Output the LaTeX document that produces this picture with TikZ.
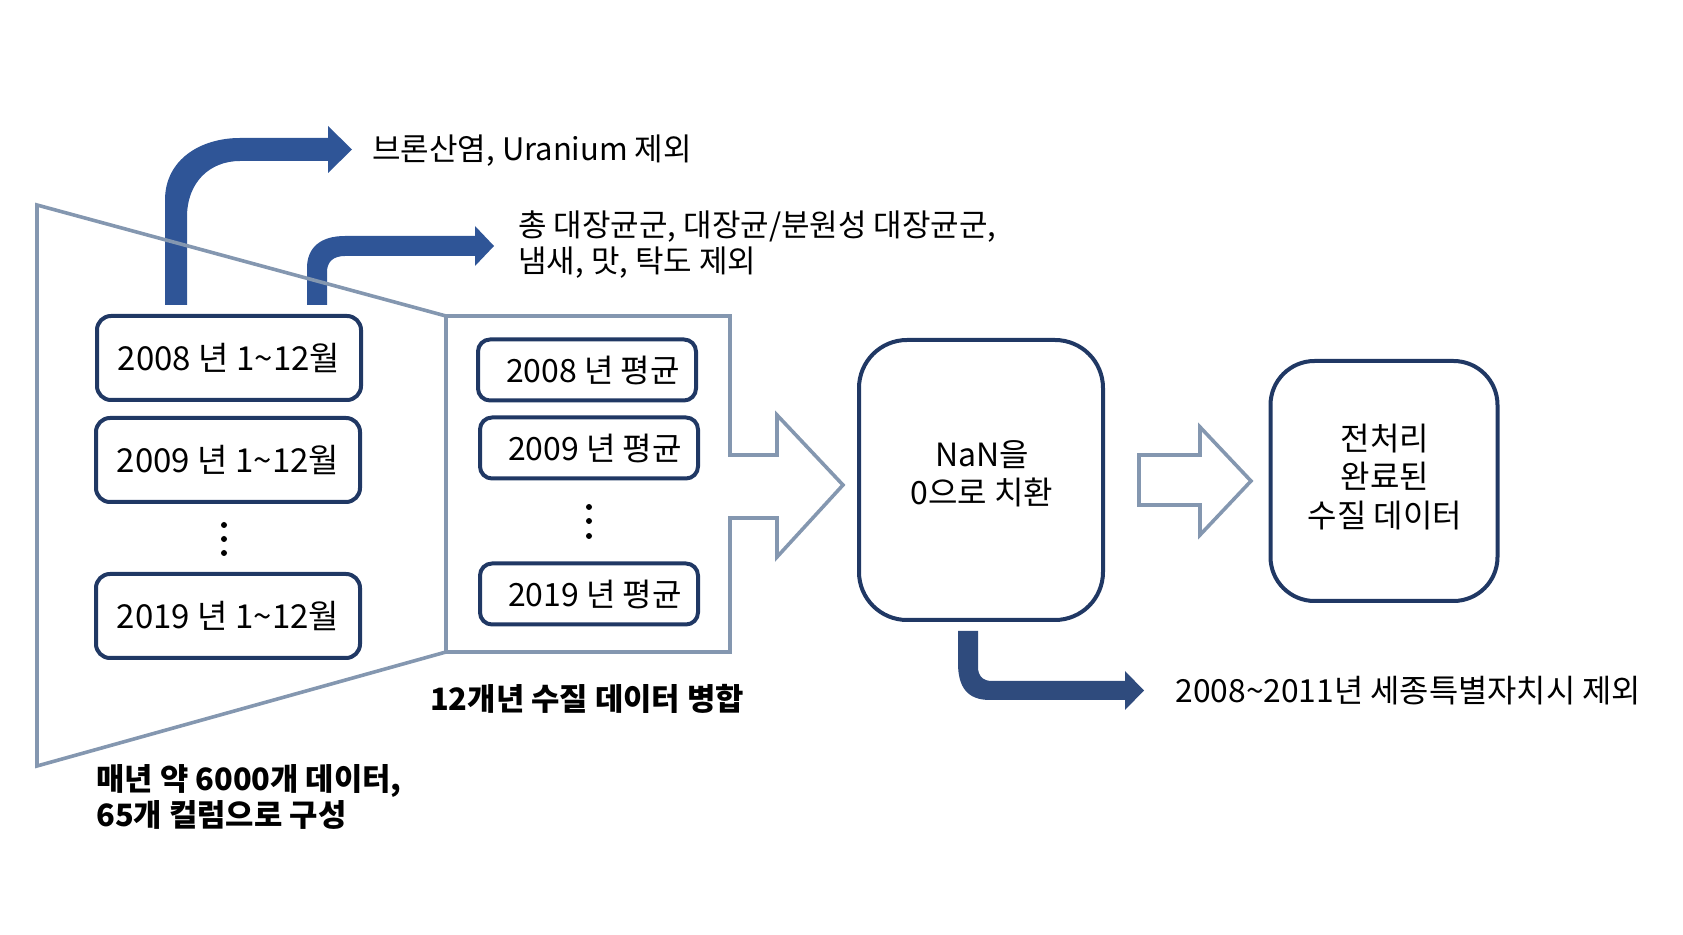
\documentclass[tikz,border=0pt]{standalone}
\usepackage{fontspec}
\setmainfont{Noto Sans CJK KR}
\usepackage{tikz}
\pgfdeclarelayer{bg}
\pgfsetlayers{bg,main}
\definecolor{navy}{HTML}{203864}
\definecolor{arrowblue}{HTML}{2F5597}
\definecolor{darkblue}{HTML}{2F4B7D}
\definecolor{slate}{HTML}{8497B0}
\tikzset{
  yearbox/.style={draw=navy, line width=2pt, rounded corners=7pt, minimum width=132pt, minimum height=42pt, font=\fontsize{16.5}{19}\selectfont},
  avgbox/.style={draw=navy, line width=2pt, rounded corners=6pt, minimum width=109pt, minimum height=30.5pt, font=\fontsize{16}{19}\selectfont},
  bigbox/.style={draw=navy, line width=2pt},
  boxtext/.style={align=center, inner sep=0pt, font=\fontsize{16}{19}\selectfont},
  hollow/.style={draw=slate, line width=1.8pt, line join=miter},
  note/.style={anchor=west, align=left, inner sep=0pt, font=\fontsize{15.5}{18}\selectfont},
  boldnote/.style={align=left, inner sep=0pt, font=\fontsize{15.4}{18}\selectfont\bfseries}
}
\begin{document}
\begin{tikzpicture}[x=0.5pt, y=-0.5pt]
        \useasboundingbox (0,0) rectangle (1683,935);
        % gray outlines
        \draw[hollow] (37,205) -- (446,316) -- (446,652) -- (37,766) -- cycle;
        \draw[hollow] (446,316) -- (730,316) -- (730,455) -- (777,455) -- (777,415) -- (843,485) -- (777,557) -- (777,518) -- (730,518) -- (730,652) -- (446,652) -- cycle;
        \draw[hollow] (1139,455) -- (1200,455) -- (1200,427) -- (1251,481) -- (1200,535) -- (1200,505) -- (1139,505) -- cycle;
        % monthly boxes
        \node (y0) [yearbox] at (229,358) {2008 년 1\textasciitilde12월};
        \node (y1) [yearbox] at (228,460) {2009 년 1\textasciitilde12월};
        \node (y2) [yearbox] at (228,616) {2019 년 1\textasciitilde12월};
        \fill (224,525) circle (3) (224,539) circle (3) (224,553) circle (3);
        % yearly averages
        \node (a0) [avgbox] at (587,370) {\hspace*{6pt}2008 년 평균};
        \node (a1) [avgbox] at (589,448) {\hspace*{6pt}2009 년 평균};
        \node (a2) [avgbox] at (589,594) {\hspace*{6pt}2019 년 평균};
        \fill (589,507) circle (3) (589,521) circle (3) (589,536) circle (3);
        \node (nan) [bigbox, rounded corners=24pt, minimum width=122pt, minimum height=140pt] at (981,480) {};
        \node (nantext) [boxtext] at (982,474) {NaN을\\0으로 치환};
        \node (done) [bigbox, rounded corners=22pt, minimum width=113.5pt, minimum height=120pt] at (1384,481) {};
        \node (donetext) [boxtext, font=\fontsize{16}{19.2}\selectfont] at (1385,477) {전처리\\완료된\\수질 데이터};
        % labels
        \node (t0) [note] at (372,151) {브론산염, Uranium 제외};
        \node (t1) [note] at (518,245) {총 대장균군, 대장균/분원성 대장균군,\\냄새, 맛, 탁도 제외};
        \node (t2) [boldnote] at (587,699) {12개년 수질 데이터 병합};
        \node (t3) [boldnote, anchor=west] at (96,797) {매년 약 6000개 데이터,\\65개 컬럼으로 구성};
        \node (t4) [note, font=\fontsize{15.9}{18}\selectfont] at (1175,691) {2008\textasciitilde2011년 세종특별자치시 제외};
        \begin{pgfonlayer}{bg}
                \fill[arrowblue] (165,305) -- (165,200) .. controls (165,160) and (200,138) .. (240,138) -- (328,138) -- (328,126) -- (352,149.5) -- (328,173) -- (328,161) -- (240,161) .. controls (210,161) and (187,182) .. (187,217) -- (187,305) -- cycle;
                \fill[arrowblue] (307,305) -- (307,268) .. controls (307,248) and (320,236) .. (345,236) -- (475,236) -- (475,226) -- (494,246) -- (475,266) -- (475,256) -- (345,256) .. controls (333,256) and (327,262) .. (327,272) -- (327,305) -- cycle;
                \fill[darkblue] (958,631) -- (958,663) .. controls (958,688) and (968,700) .. (990,700) -- (1125,700) -- (1125,710) -- (1144,690.5) -- (1125,671) -- (1125,681) -- (992,681) .. controls (983,681) and (978,676) .. (978,667) -- (978,631) -- cycle;
        \end{pgfonlayer}
\end{tikzpicture}
\end{document}
